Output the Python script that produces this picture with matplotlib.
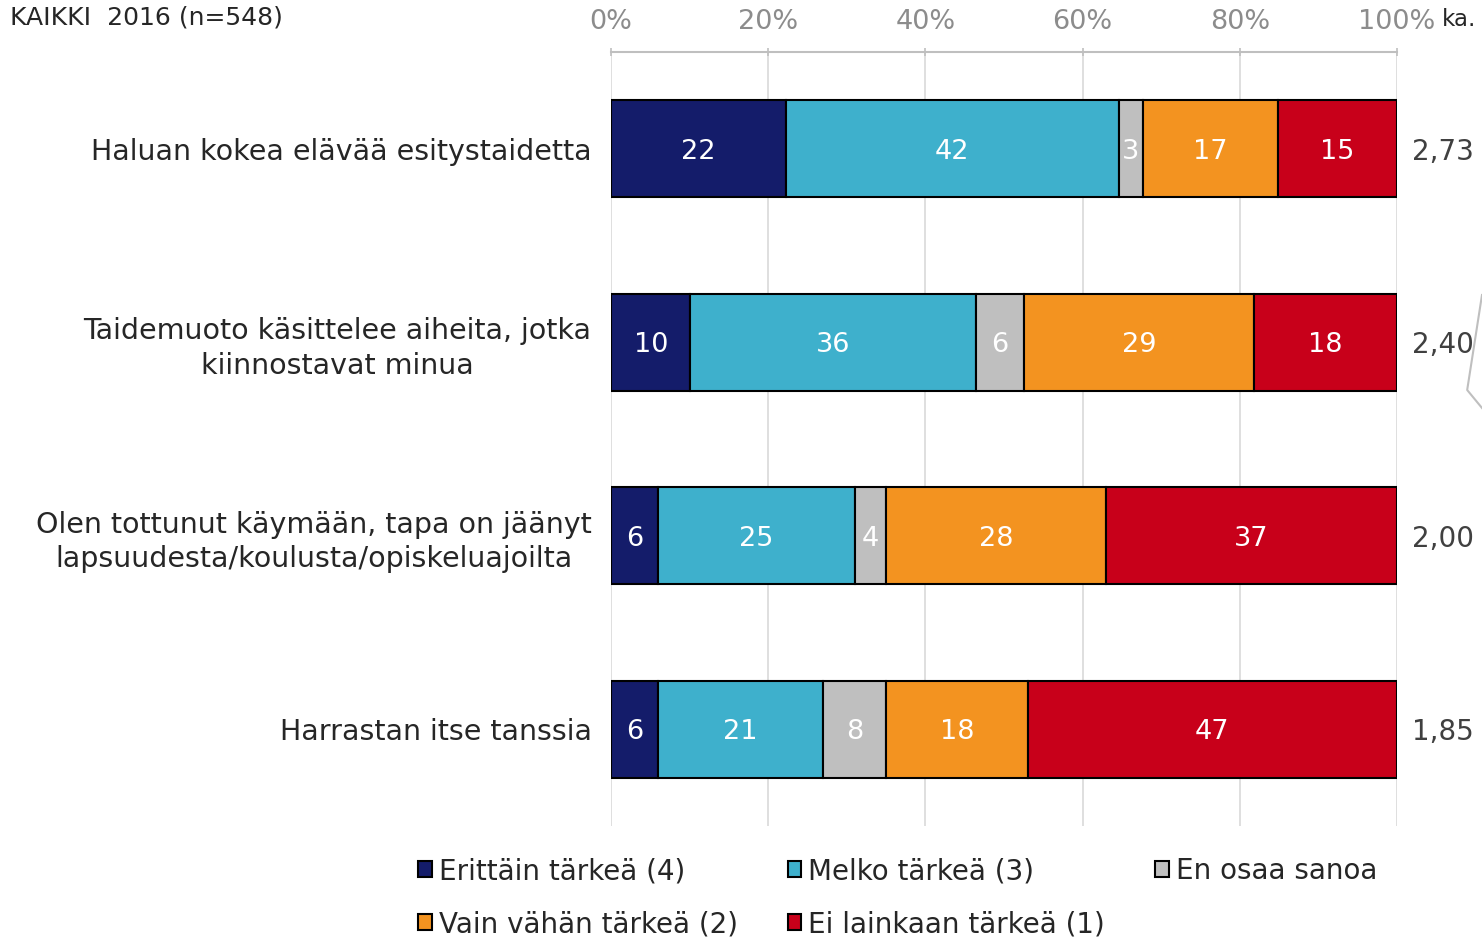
import matplotlib
matplotlib.use("Agg")
import matplotlib.pyplot as plt
from matplotlib.lines import Line2D
from matplotlib.patches import Patch
import numpy as np

plt.rcParams["font.family"] = ["DejaVu Sans"]

# %% data
categories = [
    "Haluan kokea elävää esitystaidetta",
    "Taidemuoto käsittelee aiheita, jotka\nkiinnostavat minua",
    "Olen tottunut käymään, tapa on jäänyt\nlapsuudesta/koulusta/opiskeluajoilta",
    "Harrastan itse tanssia",
]
series = [
    "Erittäin tärkeä (4)",
    "Melko tärkeä (3)",
    "En osaa sanoa",
    "Vain vähän tärkeä (2)",
    "Ei lainkaan tärkeä (1)",
]
erittain = [22, 10, 6, 6]
melko = [42, 36, 25, 21]
en_osaa = [3, 6, 4, 8]
vain_vahan = [17, 29, 28, 18]
ei_lainkaan = [15, 18, 37, 47]
averages = ["2,73", "2,40", "2,00", "1,85"]
colors = ["#141c6a", "#3eb0cc", "#bfbfbf", "#f39320", "#c8001a"]

values = np.array([erittain, melko, en_osaa, vain_vahan, ei_lainkaan], dtype=float)
shares = values / values.sum(axis=0) * 100  # 100 % stacked

# %% plot
fig = plt.figure(figsize=(14.82, 9.38), dpi=100)
ax = fig.add_axes([0.4123, 0.1194, 0.5303, 0.8252])

y = np.arange(len(categories))
left = np.zeros(len(categories))
handles = []
for i, name in enumerate(series):
    bars = ax.barh(y, shares[i], left=left, height=0.5, color=colors[i],
                   edgecolor="black", linewidth=1.5, zorder=3)
    for b, v in zip(bars, values[i]):
        ax.text(b.get_x() + b.get_width() / 2, b.get_y() + b.get_height() / 2,
                f"{v:.0f}", ha="center", va="center_baseline", color="white",
                fontsize=19.5, zorder=4)
    left += shares[i]
    handles.append(Patch(facecolor=colors[i], edgecolor="black", linewidth=1.5))

ax.set_xlim(0, 100)
ax.set_ylim(3.5, -0.5)
ax.xaxis.tick_top()
ax.set_xticks(range(0, 101, 20))
ax.set_xticklabels([f"{t}%" for t in range(0, 101, 20)], color="#8c8c8c", fontsize=19.5)
ax.tick_params(axis="x", length=6, width=1.2, color="#bfbfbf", direction="inout", pad=9)
ax.set_yticks(y)
ax.set_yticklabels(categories, fontsize=20.5, color="#262626", multialignment="center",
                   linespacing=1.3)
ax.tick_params(axis="y", length=0, pad=14)
ax.grid(axis="x", color="#d9d9d9", linewidth=1.2, zorder=0)
for side in ["bottom", "left", "right"]:
    ax.spines[side].set_visible(False)
ax.spines["top"].set_color("#bfbfbf")
ax.spines["top"].set_linewidth(1.5)

# averages on the right
for yi, a in zip(y, averages):
    ax.text(1.019, yi, a, transform=ax.get_yaxis_transform(), ha="left",
            va="center_baseline", fontsize=20, color="#404040")
fig.text(0.973, 0.979, "ka.", fontsize=16.5, color="#262626", ha="left", va="center")
fig.text(0.007, 0.981, "KAIKKI  2016 (n=548)", fontsize=18, color="#262626",
         ha="left", va="center")

# legend, row-wise order
order = [0, 3, 1, 4, 2]
fig.legend([handles[i] for i in order], [series[i] for i in order], ncol=3,
           loc="upper left", bbox_to_anchor=(0.265, 0.113), frameon=False,
           fontsize=20, handlelength=0.5, handleheight=0.5, handletextpad=0.25,
           columnspacing=1.8, labelspacing=0.9, labelcolor="#262626")

# leftover connector line at the right edge
fig.add_artist(Line2D([1.0, 0.990, 1.0], [1 - 295 / 938, 1 - 390 / 938, 1 - 408 / 938],
                      transform=fig.transFigure, color="#bfbfbf", linewidth=1.5))

fig.savefig("out.png", dpi=100)
